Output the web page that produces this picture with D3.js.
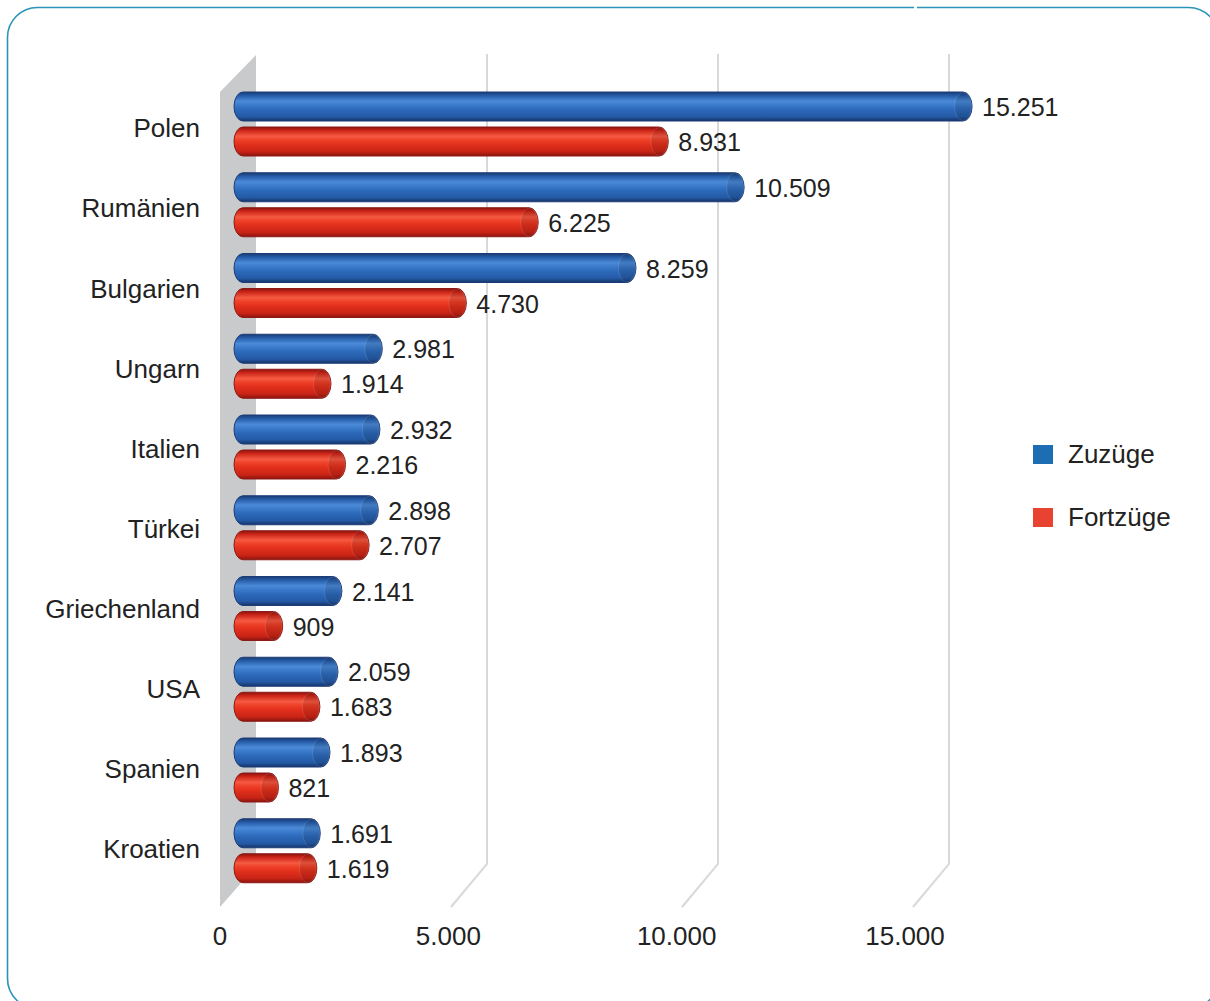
<!DOCTYPE html>
<html><head><meta charset="utf-8">
<script src="https://cdn.jsdelivr.net/npm/d3@7"></script>
<style>html,body{margin:0;padding:0;background:#fff;}svg{display:block;}text{font-family:"Liberation Sans",Arial,sans-serif;fill:#222;}</style>
</head><body>
<script>
const categories = ["Polen","Rumänien","Bulgarien","Ungarn","Italien","Türkei","Griechenland","USA","Spanien","Kroatien"];
const zuzuege = [15251,10509,8259,2981,2932,2898,2141,2059,1893,1691];
const fortzuege = [8931,6225,4730,1914,2216,2707,909,1683,821,1619];
const ticks = [0,5000,10000,15000];
const seriesNames = ["Zuzüge","Fortzüge"];
const seriesColors = ["#1d6db5","#e84331"];

const W=1210,H=1001;
const svg=d3.select("body").append("svg").attr("width",W).attr("height",H);
const loc=d3.formatLocale({decimal:",",thousands:".",grouping:[3],currency:["","€"]});
const fmt=loc.format(",d");

// frame
svg.append("rect").attr("x",7.5).attr("y",7.5).attr("width",1211).attr("height",1001).attr("rx",30)
  .attr("fill","#fff").attr("stroke","#2a93b8").attr("stroke-width",1.6);
svg.append("rect").attr("x",914).attr("y",5).attr("width",3).attr("height",5).attr("fill","#fff");

const defs=svg.append("defs");
function grad(id,stops){
  const g=defs.append("linearGradient").attr("id",id).attr("x1",0).attr("y1",0).attr("x2",0).attr("y2",1);
  stops.forEach(s=>g.append("stop").attr("offset",s[0]).attr("stop-color",s[1]));
}
grad("gBlue",[[0,"#1a3a72"],[0.12,"#255ba6"],[0.32,"#4a8ad8"],[0.45,"#3c7bcb"],[0.6,"#2d6abb"],[0.85,"#245aa6"],[1,"#163468"]]);
grad("gRed",[[0,"#8a130f"],[0.12,"#cc2518"],[0.32,"#f65a42"],[0.45,"#ee4028"],[0.6,"#e2301c"],[0.85,"#c92416"],[1,"#8a140f"]]);

// scales
const xBack=d3.scaleLinear().domain([0,15000]).range([256,949]);
const xFront=d3.scaleLinear().domain([0,15000]).range([220,905]);
const xBar=d3.scaleLinear().domain([0,15000]).range([239,960]);
const y=d3.scaleBand().domain(categories).range([84,84+80.75*categories.length]);
const yLab=d3.scalePoint().domain(categories).range([128,849]);
const depth=36, gTop=54, gBot=864, fBot=907;

// wall
svg.append("path").attr("d",`M220,92 L256,55 L256,${gBot+2} L220,${fBot} Z`).attr("fill","#c9cacc");

// gridlines
ticks.filter(t=>t>0).forEach(t=>{
  const xb=xBack(t);
  svg.append("path").attr("d",`M${xb},${gTop} L${xb},${gBot} L${xb-depth},${fBot}`)
    .attr("fill","none").attr("stroke","#d9d9d9").attr("stroke-width",2);
});

// axis labels
svg.selectAll("text.tick").data(ticks).enter().append("text").attr("class","tick")
  .attr("x",d=>xFront(d)).attr("y",945).attr("text-anchor","middle").attr("font-size",26)
  .text(d=>fmt(d));

// bars
const barH=29, x0=234;
function drawBars(vals,off,gid,stroke){
  const g=svg.append("g");
  categories.forEach((c,i)=>{
    const v=vals[i], yt=y(c)+off, xe=xBar(v);
    g.append("rect").attr("x",x0).attr("y",yt).attr("width",xe-x0).attr("height",barH)
      .attr("rx",9).attr("ry",barH/2).attr("fill",`url(#${gid})`).attr("stroke",stroke).attr("stroke-width",1);
    g.append("ellipse").attr("cx",xe-9).attr("cy",yt+barH/2).attr("rx",8.5).attr("ry",barH/2-0.5)
      .attr("fill","rgba(0,0,0,0.1)").attr("stroke","rgba(255,255,255,0.12)").attr("stroke-width",1);
    svg.append("text").attr("x",xe+10).attr("y",yt+barH/2+9.5).attr("font-size",25).text(fmt(v));
  });
}
drawBars(zuzuege,8,"gBlue","#1c3c78");
drawBars(fortzuege,43,"gRed","#8c1a16");

// category labels
svg.selectAll("text.cat").data(categories).enter().append("text").attr("class","cat")
  .attr("x",200).attr("y",d=>yLab(d)+9.3).attr("text-anchor","end").attr("font-size",26).text(d=>d);

// legend
const lg=svg.append("g");
seriesNames.forEach((n,i)=>{
  const yy=445+i*63;
  lg.append("rect").attr("x",1033).attr("y",yy).attr("width",20).attr("height",19).attr("fill",seriesColors[i]);
  lg.append("text").attr("x",1068).attr("y",yy+18).attr("font-size",26).text(n);
});
</script>
</body></html>
